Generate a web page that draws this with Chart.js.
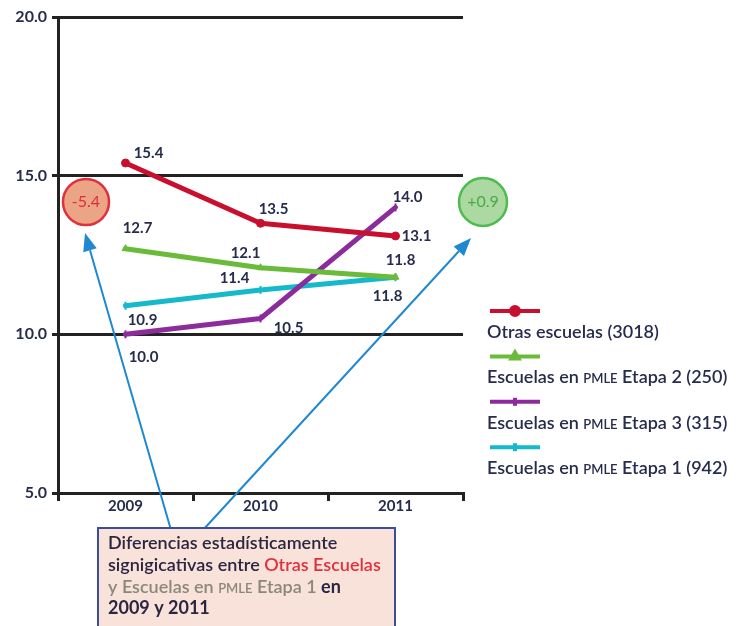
<!DOCTYPE html>
<html>
<head>
<meta charset="utf-8">
<script src="https://cdn.jsdelivr.net/npm/chart.js@4.4.0/dist/chart.umd.min.js"></script>
<style>
  html, body { margin: 0; padding: 0; background: #fff; }
  canvas { display: block; }
</style>
</head>
<body>
<canvas id="chart" width="738" height="626"></canvas>
<script>
// Chart data
const years = ['2009', '2010', '2011'];
const otrasEscuelas = [15.4, 13.5, 13.1];
const etapa2 = [12.7, 12.1, 11.8];
const etapa3 = [10.0, 10.5, 14.0];
const etapa1 = [10.9, 11.4, 11.8];
const seriesNames = [
  'Otras escuelas (3018)',
  'Escuelas en PMLE Etapa 2 (250)',
  'Escuelas en PMLE Etapa 3 (315)',
  'Escuelas en PMLE Etapa 1 (942)'
];
const diffLabels = ['-5.4', '+0.9'];

const NAVY = '#262c4c';
const FONT = 'Lato';

// split a string around "PMLE" so the acronym is set in small caps
function capsRuns(text, size, weight, color) {
  const runs = [];
  text.split('PMLE').forEach((part, i) => {
    if (i > 0) runs.push({ text: 'PMLE', font: `${weight} ${Math.round(size * 0.72)}px ${FONT}`, color });
    if (part) runs.push({ text: part, font: `${weight} ${size}px ${FONT}`, color });
  });
  return runs;
}

function drawRuns(ctx, x, y, runs) {
  ctx.textAlign = 'left';
  ctx.textBaseline = 'alphabetic';
  runs.forEach(r => {
    ctx.font = r.font;
    ctx.fillStyle = r.color;
    ctx.fillText(r.text, x, y);
    x += ctx.measureText(r.text).width;
  });
  return x;
}

function arrow(ctx, x0, y0, x1, y1, color) {
  const ang = Math.atan2(y1 - y0, x1 - x0);
  const len = 18, half = 7;
  ctx.save();
  ctx.strokeStyle = color;
  ctx.fillStyle = color;
  ctx.lineWidth = 2;
  ctx.beginPath();
  ctx.moveTo(x0, y0);
  ctx.lineTo(x1 - Math.cos(ang) * len, y1 - Math.sin(ang) * len);
  ctx.stroke();
  ctx.beginPath();
  ctx.moveTo(x1, y1);
  ctx.lineTo(x1 - Math.cos(ang) * len - Math.sin(ang) * half, y1 - Math.sin(ang) * len + Math.cos(ang) * half);
  ctx.lineTo(x1 - Math.cos(ang) * len + Math.sin(ang) * half, y1 - Math.sin(ang) * len - Math.cos(ang) * half);
  ctx.closePath();
  ctx.fill();
  ctx.restore();
}

function badge(ctx, x, y, r, fill, stroke, textColor, text) {
  ctx.save();
  ctx.beginPath();
  ctx.arc(x, y, r, 0, Math.PI * 2);
  ctx.fillStyle = fill;
  ctx.fill();
  ctx.lineWidth = 2.5;
  ctx.strokeStyle = stroke;
  ctx.stroke();
  ctx.font = `16px ${FONT}`;
  ctx.fillStyle = textColor;
  ctx.textAlign = 'center';
  ctx.textBaseline = 'middle';
  ctx.fillText(text, x, y);
  ctx.restore();
}

// value labels next to each point, offsets per dataset/point
const valueLabels = {
  id: 'valueLabels',
  afterDatasetsDraw(chart, args, opts) {
    const ctx = chart.ctx;
    ctx.save();
    ctx.font = `bold 15px ${FONT}`;
    ctx.fillStyle = NAVY;
    ctx.textAlign = 'center';
    ctx.textBaseline = 'middle';
    chart.data.datasets.forEach((ds, di) => {
      chart.getDatasetMeta(di).data.forEach((pt, i) => {
        const [dx, dy] = opts.offsets[di][i];
        ctx.fillText(ds.data[i].toFixed(1), pt.x + dx, pt.y + dy);
      });
    });
    ctx.restore();
  }
};

// legend, difference badges, arrows and the note box
const extras = {
  id: 'extras',
  afterDraw(chart) {
    const ctx = chart.ctx;

    arrow(ctx, 171, 530, 85, 233, '#1f88d0');
    arrow(ctx, 203, 530, 471, 238, '#1f88d0');

    badge(ctx, 86, 202, 23, '#eca487', '#e0303c', '#d9303a', diffLabels[0]);
    badge(ctx, 483, 202, 24, '#acd9a2', '#4dbb4d', '#4aa84a', diffLabels[1]);

    // note box
    ctx.save();
    ctx.fillStyle = '#f9e2da';
    ctx.fillRect(98, 528, 297, 110);
    ctx.strokeStyle = '#3c4d9a';
    ctx.lineWidth = 2;
    ctx.strokeRect(98, 528, 297, 110);
    ctx.restore();
    const dark = '#2a2540', red = '#e0303c', grey = '#8a877c';
    const f = `600 18px ${FONT}`, fb = `bold 18px ${FONT}`;
    drawRuns(ctx, 108, 549, [{ text: 'Diferencias estadísticamente', font: f, color: dark }]);
    drawRuns(ctx, 108, 571, [
      { text: 'signigicativas entre ', font: f, color: dark },
      { text: 'Otras Escuelas', font: f, color: red }
    ]);
    drawRuns(ctx, 108, 593, [
      { text: 'y ', font: f, color: grey },
      ...capsRuns('Escuelas en PMLE Etapa 1', 18, '600', grey),
      { text: ' en', font: fb, color: dark }
    ]);
    drawRuns(ctx, 108, 614, [{ text: '2009 y 2011', font: fb, color: dark }]);

    // legend: sample line above each name
    chart.data.datasets.forEach((ds, i) => {
      const y = 311 + i * 45.4;
      ctx.save();
      ctx.strokeStyle = ds.borderColor;
      ctx.lineWidth = 4;
      ctx.beginPath();
      ctx.moveTo(490, y);
      ctx.lineTo(540, y);
      ctx.stroke();
      Chart.helpers.drawPoint(ctx, {
        pointStyle: ds.pointStyle, radius: ds.pointRadius, rotation: ds.pointRotation || 0,
        borderWidth: ds.pointBorderWidth
      }, 515, y);
      ctx.fillStyle = ds.borderColor;
      ctx.fill();
      ctx.restore();
      drawRuns(ctx, 487, y + 27, capsRuns(seriesNames[i], 18, '600', NAVY));
    });
  }
};

const ctx = document.getElementById('chart').getContext('2d');
new Chart(ctx, {
  type: 'line',
  data: {
    labels: years,
    datasets: [
      { label: seriesNames[0], data: otrasEscuelas, borderColor: '#c8102e', backgroundColor: '#c8102e',
        pointStyle: 'circle', pointRadius: 4, pointBorderWidth: 1 },
      { label: seriesNames[1], data: etapa2, borderColor: '#6bbb3a', backgroundColor: '#6bbb3a',
        pointStyle: 'triangle', pointRadius: 4, pointBorderWidth: 1 },
      { label: seriesNames[2], data: etapa3, borderColor: '#8c2c9c', backgroundColor: '#8c2c9c',
        pointStyle: 'line', pointRotation: 90, pointRadius: 4, pointBorderWidth: 2 },
      { label: seriesNames[3], data: etapa1, borderColor: '#14b9cc', backgroundColor: '#14b9cc',
        pointStyle: 'line', pointRotation: 90, pointRadius: 4, pointBorderWidth: 2 }
    ]
  },
  options: {
    responsive: false,
    animation: false,
    devicePixelRatio: 1,
    layout: { padding: { top: 17, right: 275, left: 0, bottom: 0 } },
    elements: {
      line: { borderWidth: 5, tension: 0, borderCapStyle: 'round', borderJoinStyle: 'round' }
    },
    plugins: {
      legend: { display: false },
      tooltip: { enabled: false },
      valueLabels: {
        offsets: [
          [[23, -10], [13, -14], [21, 0]],
          [[12, -20], [-15, -15], [5, -17]],
          [[18, 23], [28, 10], [12, -10]],
          [[17, 14], [-26, -12], [-8, 19]]
        ]
      }
    },
    scales: {
      x: {
        offset: true,
        grid: { display: true, drawOnChartArea: false, offset: true, color: '#222', lineWidth: 3, tickLength: 8 },
        border: { color: '#222', width: 3 },
        ticks: { color: NAVY, font: { family: FONT, size: 15, weight: 'bold' }, padding: -4 },
        afterFit(scale) { scale.height = 133; }
      },
      y: {
        min: 5,
        max: 20,
        ticks: { stepSize: 5, color: NAVY, font: { family: FONT, size: 16, weight: 'bold' }, padding: 5,
                 callback: v => v.toFixed(1) },
        grid: { color: '#222', lineWidth: 3, tickLength: 6 },
        border: { color: '#222', width: 3 },
        afterFit(scale) { scale.width = 58; }
      }
    }
  },
  plugins: [valueLabels, extras]
});
</script>
</body>
</html>
